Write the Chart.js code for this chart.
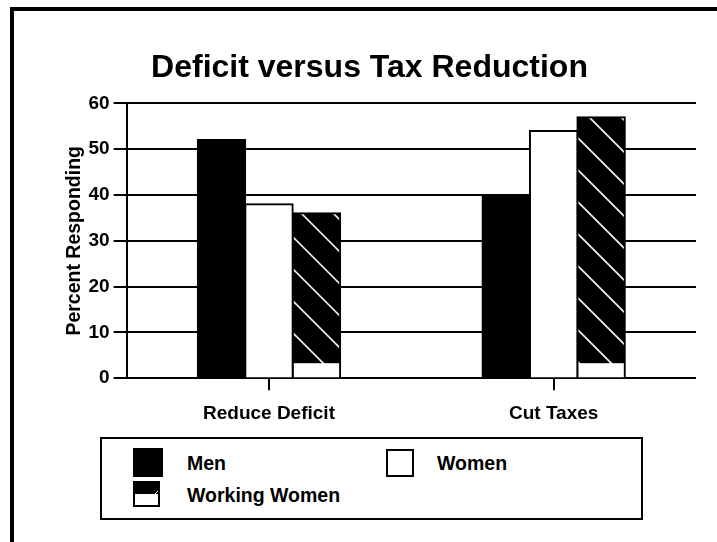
<!DOCTYPE html>
<html>
<head>
<meta charset="utf-8">
<script src="https://cdn.jsdelivr.net/npm/chart.js@4/dist/chart.umd.min.js"></script>
<style>
  html, body { margin: 0; padding: 0; background: #fff; }
  #wrap { position: relative; width: 717px; height: 542px; overflow: hidden; background: #fff; }
  #c { position: absolute; left: 0; top: 0; }
  #frame { position: absolute; left: 10px; top: 7px; width: 720px; height: 560px;
           border-top: 4px solid #000; border-left: 4px solid #000; pointer-events: none; }
  #legend { position: absolute; left: 100px; top: 437px; width: 539px; height: 79px;
            border: 2px solid #000; background: #fff;
            font-family: 'Liberation Sans', Arial, sans-serif; font-weight: bold; font-size: 19.5px; color: #000; }
  .icon { position: absolute; box-sizing: border-box; }
  .lbl { position: absolute; white-space: nowrap; line-height: 22px; }
</style>
</head>
<body>
<div id="wrap">
  <canvas id="c" width="717" height="542"></canvas>
  <div id="frame"></div>
  <div id="legend"></div>
</div>
<script>
// ---- data ----
const categories = ['Reduce Deficit', 'Cut Taxes'];
const seriesNames = ['Men', 'Women', 'Working Women'];
const menValues = [52, 40];
const womenValues = [38, 54];
const workingWomenValues = [36, 57];
const yTickValues = [0, 10, 20, 30, 40, 50, 60];
const chartTitle = 'Deficit versus Tax Reduction';
const yAxisTitle = 'Percent Responding';

const FONT = "'Liberation Sans', Arial, sans-serif";

let hatchCache = null;
function hatchFill(context) {
  const chart = context.chart;
  if (!chart.chartArea || !chart.scales || !chart.scales.y) return '#000';
  const y0 = chart.scales.y.getPixelForValue(0);
  const key = chart.width + 'x' + chart.height + '@' + Math.round(y0);
  if (hatchCache && hatchCache.key === key) return hatchCache.pattern;
  const c = document.createElement('canvas');
  c.width = chart.width; c.height = chart.height;
  const g = c.getContext('2d');
  g.fillStyle = '#000';
  g.fillRect(0, 0, c.width, c.height);
  g.strokeStyle = '#fff';
  g.lineWidth = 1.6;
  for (let k = 24 - 32 * 40; k < c.width + 32; k += 32) {
    g.beginPath();
    g.moveTo(k, 0);
    g.lineTo(k + c.height, c.height);
    g.stroke();
  }
  g.fillStyle = '#fff';
  g.fillRect(0, y0 - 15, c.width, c.height);
  const pattern = chart.ctx.createPattern(c, 'no-repeat');
  hatchCache = { key, pattern };
  return pattern;
}

const ctx = document.getElementById('c').getContext('2d');
const chart = new Chart(ctx, {
  type: 'bar',
  data: {
    labels: categories,
    datasets: [
      { label: seriesNames[0], data: menValues, backgroundColor: '#000', borderColor: '#000', borderWidth: 2 },
      { label: seriesNames[1], data: womenValues, backgroundColor: '#fff', borderColor: '#000', borderWidth: 2 },
      { label: seriesNames[2], data: workingWomenValues, backgroundColor: hatchFill, borderColor: '#000', borderWidth: 2 }
    ]
  },
  options: {
    responsive: false,
    animation: false,
    devicePixelRatio: 1,
    layout: { padding: { left: 43, right: 21, top: 31, bottom: 105 } },
    datasets: { bar: { categoryPercentage: 0.5, barPercentage: 1.0, inflateAmount: 1 } },
    plugins: {
      legend: { display: false },
      tooltip: { enabled: false },
      title: {
        display: true, text: chartTitle, color: '#000',
        font: { family: FONT, size: 32, weight: 'bold' },
        padding: { top: 18, bottom: 16 }
      }
    },
    scales: {
      x: {
        grid: { display: true, offset: false, drawOnChartArea: false, color: '#000', lineWidth: 2, tickLength: 12 },
        border: { display: false },
        ticks: { color: '#000', font: { family: FONT, size: 19, weight: 'bold' }, padding: 12 }
      },
      y: {
        min: 0, max: 60,
        afterBuildTicks: (axis) => { axis.ticks = yTickValues.map(v => ({ value: v })); },
        grid: { color: '#000', lineWidth: 2, tickLength: 13, drawTicks: true },
        border: { display: true, color: '#000', width: 2 },
        ticks: { color: '#000', font: { family: FONT, size: 19, weight: 'bold' }, padding: 4 },
        title: { display: true, text: yAxisTitle, color: '#000', font: { family: FONT, size: 19.5, weight: 'bold', lineHeight: 1.0 }, padding: { top: 22, bottom: 0 } }
      }
    }
  }
});

// ---- HTML legend built from the chart's datasets ----
const legendEl = document.getElementById('legend');
const iconStyles = [
  'background:#000;width:30px;height:29px;',
  'background:#fff;border:2px solid #000;width:28px;height:28px;',
  'background:linear-gradient(135deg, transparent 78%, #fff 78%, #fff 84%, transparent 84%) top right/14px 13px no-repeat, linear-gradient(#000 0, #000 48%, #fff 48%);border:2px solid #000;width:27px;height:26px;'
];
const slots = [ {x: 31, y: 9, tx: 85, ty: 13}, {x: 284, y: 10, tx: 335, ty: 13}, {x: 31, y: 42, tx: 85, ty: 45} ];
chart.data.datasets.forEach((ds, i) => {
  const s = slots[i];
  const icon = document.createElement('div');
  icon.className = 'icon';
  icon.style.cssText = iconStyles[i] + 'left:' + s.x + 'px;top:' + s.y + 'px;';
  const lbl = document.createElement('div');
  lbl.className = 'lbl';
  lbl.textContent = ds.label;
  lbl.style.left = s.tx + 'px';
  lbl.style.top = s.ty + 'px';
  legendEl.appendChild(icon);
  legendEl.appendChild(lbl);
});
</script>
</body>
</html>
